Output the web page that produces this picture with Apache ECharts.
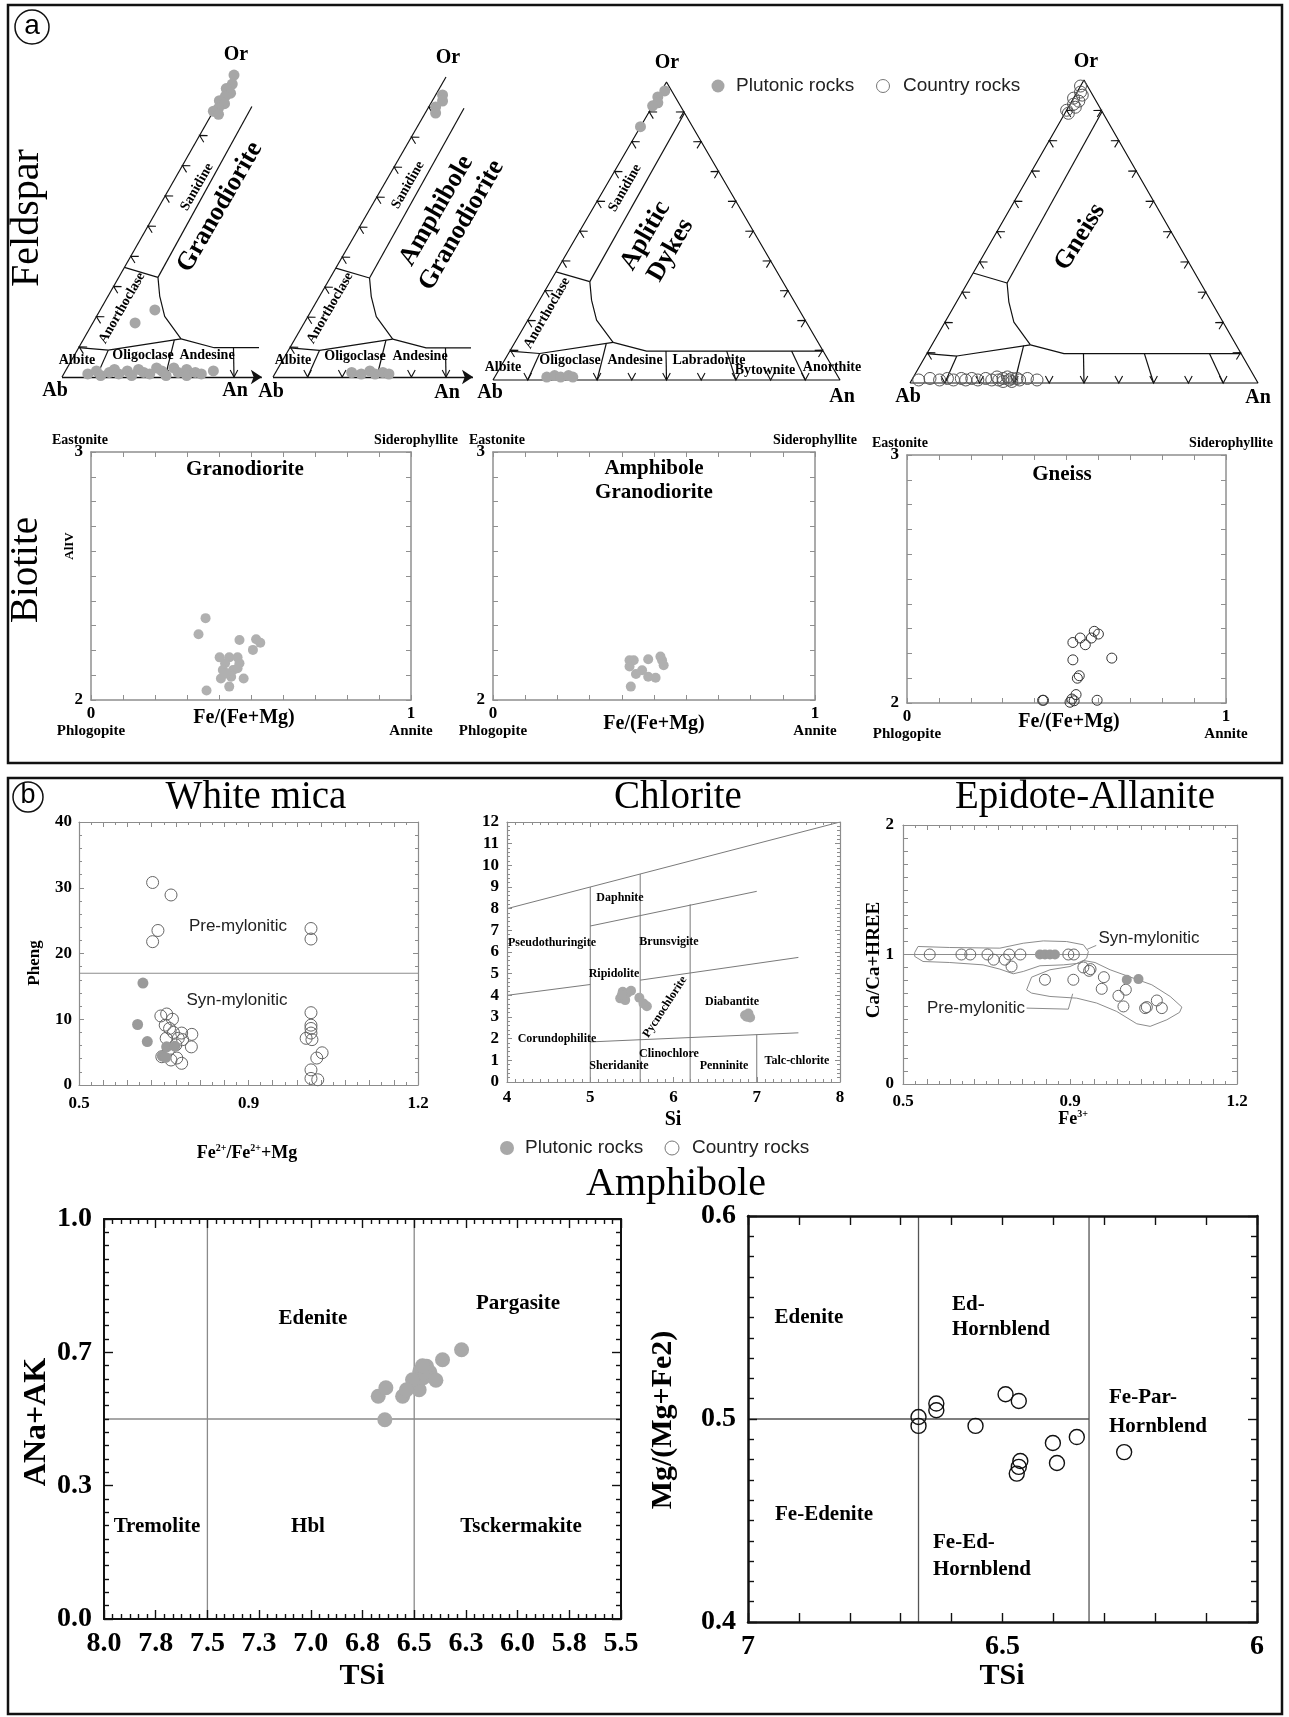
<!DOCTYPE html>
<html><head><meta charset="utf-8"><title>Mineral chemistry diagrams</title>
<script src="https://cdn.jsdelivr.net/npm/echarts@6/dist/echarts.min.js"></script>
<style>html,body{margin:0;padding:0;background:#fff;}#chart{width:1289px;height:1717px;}</style>
</head><body><div id="chart"></div>
<script>
// ================= DATA =================
// Feldspar ternary (Ab-An-Or): each point = [An, Or] (Ab = 1 - An - Or)
const fsGranodiorite = [
  [0.0,1.0],[0.01,0.97],[0.0,0.955],[0.02,0.94],[0.01,0.93],[0.0,0.915],[0.02,0.905],[0.01,0.89],[0.0,0.88],[0.02,0.87],
  [0.159,0.222],[0.123,0.179],
  [0.07,0.01],[0.09,0.02],[0.11,0.005],[0.13,0.015],[0.14,0.025],[0.16,0.01],[0.18,0.02],[0.2,0.005],[0.21,0.025],
  [0.23,0.015],[0.25,0.01],[0.26,0.03],[0.28,0.02],[0.3,0.005],[0.31,0.03],[0.33,0.015],[0.35,0.025],[0.36,0.005],
  [0.38,0.015],[0.4,0.01],[0.43,0.02]
];
const fsAmphGranodiorite = [
  [0.02,0.94],[0.03,0.92],[0.02,0.9],[0.03,0.88],
  [0.22,0.015],[0.25,0.01],[0.27,0.02],[0.29,0.01],[0.31,0.015],[0.33,0.01]
];
const fsAplitic = [
  [0.01,0.97],[0.0,0.95],[0.01,0.93],[0.0,0.92],[0.0,0.85],
  [0.15,0.01],[0.17,0.015],[0.19,0.01],[0.21,0.015],[0.225,0.01]
];
const fsGneiss = [
  [0.0,0.98],[0.01,0.96],[0.02,0.95],[0.0,0.94],[0.02,0.93],[0.01,0.92],[0.0,0.9],[0.02,0.91],[0.01,0.89],
  [0.02,0.01],[0.05,0.015],[0.08,0.01],[0.1,0.015],[0.12,0.01],[0.14,0.015],[0.155,0.01],[0.17,0.015],[0.19,0.01],
  [0.21,0.015],[0.23,0.01],[0.24,0.02],[0.25,0.01],[0.26,0.015],[0.265,0.005],[0.27,0.02],[0.28,0.01],[0.285,0.015],
  [0.29,0.005],[0.3,0.015],[0.31,0.01],[0.33,0.015],[0.36,0.01]
];
// Feldspar classification boundaries, [An, Or]
const fsBoundAbAnorth = [[0,0.097],[0.09,0.089],[0.283,0.126]];
const fsBoundPlagTop = [[0.283,0.126],[0.394,0.097],[0.903,0.097]];
const fsBoundCurve = [[0.283,0.126],[0.198,0.201],[0.15,0.268],[0.114,0.33]];
const fsBoundSanidine = [[0.114,0.33],[0.104,0.896]];
const fsBoundAnorthSan = [[0,0.363],[0.114,0.33]];
const fsPlagDivisions = [
  [[0.09,0.089],[0.1,0]], [[0.265,0.123],[0.3,0]], [[0.45,0.097],[0.5,0]],
  [[0.625,0.097],[0.7,0]], [[0.812,0.097],[0.9,0]]
];

// Biotite: [Fe/(Fe+Mg), AlIV]
const btGranodiorite = [[0.358,2.33],[0.336,2.265],[0.464,2.242],[0.516,2.245],[0.529,2.231],[0.506,2.202],[0.402,2.172],
  [0.432,2.172],[0.458,2.172],[0.419,2.148],[0.464,2.148],[0.412,2.121],[0.444,2.121],[0.406,2.087],[0.438,2.094],
  [0.477,2.087],[0.432,2.054],[0.361,2.038],[0.458,2.128],[0.423,2.108]];
const btAmphGranodiorite = [[0.424,2.16],[0.437,2.16],[0.424,2.135],[0.444,2.105],[0.463,2.12],[0.482,2.164],
  [0.482,2.094],[0.428,2.054],[0.52,2.175],[0.525,2.16],[0.53,2.14],[0.505,2.09]];
const btGneiss = [[0.52,2.244],[0.543,2.262],[0.559,2.235],[0.578,2.262],[0.587,2.289],[0.60,2.278],[0.52,2.174],
  [0.642,2.181],[0.54,2.11],[0.534,2.10],[0.53,2.034],[0.425,2.011],[0.428,2.011],[0.511,2.003],[0.524,2.009],
  [0.596,2.011],[0.517,2.016]];

// White mica: [Fe2+/(Fe2+ + Mg), Pheng]
const wmPlutonic = [[0.632,15.5],[0.621,9.2],[0.641,6.6],[0.672,4.4],[0.681,5.8],[0.698,5.9],[0.679,4.2]];
const wmCountry = [[0.652,30.8],[0.69,28.9],[0.663,23.5],[0.652,21.8],[0.979,23.8],[0.979,22.2],
  [0.669,10.5],[0.681,10.8],[0.693,10.0],[0.678,9.1],[0.687,8.6],[0.695,8.0],[0.712,7.9],[0.68,7.1],[0.705,7.1],
  [0.714,6.9],[0.733,7.7],[0.732,5.8],[0.685,5.3],[0.69,3.8],[0.702,4.1],[0.712,3.3],[0.671,4.3],[0.7,6.1],
  [0.979,11.0],[0.979,9.1],[0.979,8.6],[0.979,7.9],[0.969,7.1],[0.981,6.9],[0.991,4.1],[1.002,4.9],[0.979,2.3],
  [0.979,1.0],[0.993,0.8]];
const wmDivider = [[0.5,17],[1.2,17]];
const wmXTickVals = [0.5,0.85,1.2], wmXTickText = ['0.5','0.9','1.2'];
const wmYTickVals = [0,10,20,30,40], wmYTickText = ['0','10','20','30','40'];

// Chlorite: [Si, ordinate]
const chlPlutonic = [[5.36,3.86],[5.39,4.16],[5.44,4.09],[5.49,4.21],[5.42,3.78],[5.38,4.01],[5.59,3.89],
  [5.68,3.5],[5.64,3.62],[6.86,3.08],[6.92,2.98],[6.88,3.01],[6.9,3.16]];
const chlBoundaries = [
  [[4,8],[8,12]], [[5,0],[5,9]], [[5.6,0],[5.6,9.6]], [[6.2,0],[6.2,8.2]], [[5,7.2],[7,8.8]],
  [[4,4],[5,4.5]], [[5.6,4.7],[7.5,5.75]], [[5,1.85],[7.5,2.27]], [[7,0],[7,2.19]]
];
const chlXTickVals = [4,5,6,7,8];
const chlYTickVals = [0,1,2,3,4,5,6,7,8,9,10,11,12];

// Epidote-Allanite: [Fe3+, Ca/(Ca+HREE)]
const epPlutonic = [[0.787,1.0],[0.7975,1.0],[0.808,1.0],[0.8185,1.0],[0.969,0.805],[0.9935,0.81]];
const epCountry = [[0.556,1.0],[0.6225,1.0],[0.641,1.0],[0.677,1.0],[0.69,0.96],[0.7135,0.96],[0.7226,1.0],
  [0.7275,0.907],[0.746,1.0],[0.8465,1.0],[0.858,1.0],[0.878,0.9],[0.89,0.874],[0.893,0.887],[0.7975,0.805],
  [0.857,0.805],[0.921,0.825],[0.9165,0.735],[0.9515,0.681],[0.967,0.728],[0.962,0.599],[1.0075,0.586],
  [1.011,0.594],[1.032,0.645],[1.0425,0.586]];
const epDivider = [[0.5,1],[1.2,1]];
const epSynOutline = [[0.5245,1.015],[0.5315,1.062],[0.598,1.054],[0.703,1.049],[0.752,1.087],[0.794,1.105],
  [0.843,1.1],[0.878,1.075],[0.8885,1.023],[0.885,0.972],[0.871,0.933],[0.836,0.92],[0.787,0.913],[0.752,0.869],
  [0.731,0.851],[0.703,0.887],[0.668,0.92],[0.598,0.938],[0.542,0.946],[0.5245,0.985],[0.5245,1.015]];
const epSynLeader = [[0.886,1.04],[0.905,1.07]];
const epPreOutline = [[0.759,0.727],[0.7695,0.825],[0.808,0.882],[0.85,0.907],[0.878,0.954],[0.9025,0.938],
  [0.934,0.882],[0.983,0.817],[1.0215,0.766],[1.06,0.676],[1.0845,0.594],[1.0796,0.553],[1.053,0.496],
  [1.018,0.445],[0.99,0.465],[0.948,0.56],[0.906,0.625],[0.864,0.663],[0.808,0.676],[0.7695,0.702],[0.759,0.727]];
const epPreLeader = [[0.759,0.586],[0.8465,0.578],[0.8556,0.697]];
const epXTickVals = [0.5,0.85,1.2], epXTickText = ['0.5','0.9','1.2'];
const epYTickVals = [0,1,2], epYTickText = ['0','1','2'];

// Amphibole (left): [TSi, ANa+AK]
const amPlutonic = [[6.674,0.557],[6.637,0.578],[6.642,0.498],[6.556,0.557],[6.497,0.586],[6.473,0.619],
  [6.476,0.573],[6.456,0.603],[6.424,0.617],[6.395,0.597],[6.363,0.648],[6.271,0.673],[6.508,0.598],
  [6.44,0.632],[6.537,0.573],[6.46,0.633]];
const amLBoundaries = [ [[7.5,0],[7.5,1]], [[6.5,0],[6.5,1]], [[8,0.5],[5.5,0.5]] ];
const amLXTickVals = [8,7.75,7.5,7.25,7,6.75,6.5,6.25,6,5.75,5.5];
const amLXTickText = ['8.0','7.8','7.5','7.3','7.0','6.8','6.5','6.3','6.0','5.8','5.5'];
const amLYTickVals = [0,1/3,2/3,1], amLYTickText = ['0.0','0.3','0.7','1.0'];
// Amphibole (right): [TSi, Mg/(Mg+Fe2)]
const amCountry = [[6.665,0.501],[6.665,0.4966],[6.63,0.5076],[6.63,0.5043],[6.553,0.4966],[6.494,0.5122],
  [6.468,0.5089],[6.401,0.4882],[6.354,0.4911],[6.393,0.4783],[6.465,0.4793],[6.468,0.4764],[6.472,0.4731],
  [6.261,0.4837]];
const amRBoundaries = [ [[6.665,0.4],[6.665,0.6]], [[6.33,0.4],[6.33,0.6]], [[7,0.5],[6.33,0.5]] ];
const amRXTickVals = [7,6.5,6], amRXTickText = ['7','6.5','6'];
const amRYTickVals = [0.4,0.5,0.6], amRYTickText = ['0.4','0.5','0.6'];

// ================= BUILD =================
const SERIF = '"Liberation Serif","Times New Roman",serif';
const SANS = '"Liberation Sans",Arial,sans-serif';
const grids = [], xAxes = [], yAxes = [], series = [], graphics = [];
const SQ = Math.sqrt(3) / 2;
const tern = p => [p[0] + p[1] / 2, p[1] * SQ];
function lab(v, vals, txt) { for (let i = 0; i < vals.length; i++) if (Math.abs(v - vals[i]) < 1e-6) return txt[i]; return ''; }

function T(x, y, text, size, o) {
  o = o || {};
  const st = { text: text, fontFamily: o.ff || SERIF, fontSize: size, fontWeight: o.w || 'bold', fill: o.c || '#000',
    align: o.a || 'center', verticalAlign: o.va || 'middle', lineHeight: o.lh || Math.round(size * 1.15) };
  if (o.rich) st.rich = o.rich;
  graphics.push({ type: 'text', x: x, y: y, rotation: (o.rot || 0) * Math.PI / 180, z: 50, silent: true, style: st });
}
function seg(ax, pts, o) {
  series.push(Object.assign({ type: 'line', data: pts, symbol: 'none', showSymbol: false, clip: true,
    lineStyle: { color: o.c, width: o.w }, silent: true, z: 3, animation: false }, ax));
}
function scat(ax, data, o) {
  series.push(Object.assign({ type: 'scatter', data: data, symbol: 'circle', symbolSize: o.size, silent: true, z: 10,
    animation: false,
    itemStyle: o.open ? { color: 'rgba(0,0,0,0)', borderColor: o.stroke, borderWidth: o.bw || 1, opacity: 1 }
                      : { color: o.fill, opacity: 1 } }, ax));
}

// ---------- Ternary diagrams ----------
function chevronRender(params, api) {
  const p = api.coord([api.value(0), api.value(1)]);
  const a = api.value(2) * Math.PI / 180, dx = Math.cos(a), dy = Math.sin(a), L = 7, W = 3.8;
  const bx = p[0] - dx * L, by = p[1] - dy * L, nx = -dy, ny = dx;
  return { type: 'polyline', shape: { points: [[bx + nx * W, by + ny * W], [p[0], p[1]], [bx - nx * W, by - ny * W]] },
    style: { stroke: '#111', lineWidth: 1.1, fill: 'none' } };
}
function ternary(cfg) {
  const gi = grids.length;
  grids.push({ left: cfg.ab[0] + cfg.xr[0] * cfg.sx, top: cfg.ab[1] - cfg.yr[1] * cfg.sy,
    width: (cfg.xr[1] - cfg.xr[0]) * cfg.sx, height: (cfg.yr[1] - cfg.yr[0]) * cfg.sy });
  const xi = xAxes.length, yi = yAxes.length;
  xAxes.push({ gridIndex: gi, type: 'value', min: cfg.xr[0], max: cfg.xr[1], show: false });
  yAxes.push({ gridIndex: gi, type: 'value', min: cfg.yr[0], max: cfg.yr[1], show: false });
  const ax = { xAxisIndex: xi, yAxisIndex: yi };
  const edges = cfg.full ? [[[0,0],[1,0],[0,1],[0,0]]] : [[[0,0],[0,1]]];
  const all = edges.concat([fsBoundAbAnorth, fsBoundPlagTop, fsBoundCurve, fsBoundSanidine, fsBoundAnorthSan], fsPlagDivisions);
  all.forEach(l => seg(ax, l.map(tern), { c: '#111', w: 1.2 }));
  if (!cfg.full) {
    series.push(Object.assign({ type: 'lines', coordinateSystem: 'cartesian2d', clip: false, silent: true, z: 4,
      data: [{ coords: [tern([0, 0]), tern([cfg.arrow, 0])] }], symbol: ['none', 'arrow'], symbolSize: 11,
      lineStyle: { color: '#111', width: 1.4, opacity: 1 }, animation: false }, ax));
  }
  const ticks = [];
  for (let k = 1; k <= 9; k++) {
    const f = k / 10;
    ticks.push(tern([f, 0]).concat([90]));
    ticks.push(tern([0, f]).concat([210]));
    if (cfg.full) ticks.push(tern([1 - f, f]).concat([-30]));
  }
  series.push(Object.assign({ type: 'custom', renderItem: chevronRender, silent: true, z: 4, animation: false,
    data: ticks.filter(t => t[0] <= cfg.xr[1] - 0.004) }, ax));
  scat(ax, cfg.data.map(tern), cfg.open ? { size: 12, open: true, stroke: '#555', bw: 1 } : { size: 11, fill: '#a6a6a6' });
}
ternary({ ab: [62, 377], sx: 344, sy: 348.7, xr: [-0.08, 0.57], yr: [-0.04, 0.93], arrow: 0.581, full: false, data: fsGranodiorite });
ternary({ ab: [273, 377], sx: 346, sy: 346.4, xr: [-0.08, 0.569], yr: [-0.04, 0.93], arrow: 0.578, full: false, data: fsAmphGranodiorite });
ternary({ ab: [493, 380], sx: 347, sy: 344.1, xr: [-0.06, 1.06], yr: [-0.04, 0.93], full: true, data: fsAplitic });
ternary({ ab: [910, 383], sx: 348, sy: 349.9, xr: [-0.06, 1.06], yr: [-0.04, 0.93], full: true, data: fsGneiss, open: true });

// ---------- Boxed x-y plots ----------
function boxPlot(b, xo, yo, st) {
  const gi = grids.length;
  grids.push({ left: b[0], top: b[1], width: b[2] - b[0], height: b[3] - b[1] });
  const mk = (pos, o, withLabel) => ({
    gridIndex: gi, type: 'value', position: pos, min: o.min, max: o.max, interval: o.interval, inverse: !!o.inverse,
    axisLine: { show: true, onZero: false, lineStyle: { color: st.color, width: st.lw } },
    axisTick: { show: true, inside: true, length: o.tl || st.tl, lineStyle: { color: st.color, width: st.tw || 1 } },
    minorTick: { show: !!o.minor, splitNumber: o.minor || 5, length: st.ml || 3, lineStyle: { color: st.color, width: st.tw || 1 } },
    splitLine: { show: false }, minorSplitLine: { show: false },
    axisLabel: withLabel ? Object.assign({ show: true, interval: 0, color: '#000', fontFamily: SERIF, fontWeight: 'bold',
      fontSize: st.fs, margin: o.margin, hideOverlap: false, showMinLabel: true, showMaxLabel: true }, o.label) : { show: false },
    z: 5
  });
  const xi = xAxes.length; xAxes.push(mk('bottom', xo, true)); xAxes.push(mk('top', xo, false));
  const yi = yAxes.length; yAxes.push(mk('left', yo, true)); yAxes.push(mk('right', yo, false));
  return { xAxisIndex: xi, yAxisIndex: yi };
}

// Biotite
const btRich = { n: { fontFamily: SERIF, fontWeight: 'bold', fontSize: 17, lineHeight: 16 },
                 l: { fontFamily: SERIF, fontWeight: 'bold', fontSize: 15, lineHeight: 18 } };
const btXTickVals = [0, 1], btXTickText = ['{n|0}\n{l|Phlogopite}', '{n|1}\n{l|Annite}'];
const btYTickVals = [2, 3], btYTickText = ['2', '3'];
const btStyle = { color: '#8f8f8f', lw: 1.5, tl: 5, fs: 17 };
const btX = { min: 0, max: 1, interval: 0.1, margin: 6, label: { formatter: v => lab(v, btXTickVals, btXTickText), rich: btRich } };
const btY = { min: 2, max: 3, interval: 0.1, margin: 8, label: { formatter: v => lab(v, btYTickVals, btYTickText) } };
const bt1 = boxPlot([91, 452, 411, 700], btX, btY, btStyle);
const bt2 = boxPlot([493, 452, 815, 700], btX, btY, btStyle);
const bt3 = boxPlot([907, 455, 1226, 703], btX, btY, btStyle);
scat(bt1, btGranodiorite, { size: 10, fill: '#b0b0b0' });
scat(bt2, btAmphGranodiorite, { size: 10, fill: '#b0b0b0' });
scat(bt3, btGneiss, { size: 10, open: true, stroke: '#333', bw: 1 });

// White mica
const pbStyle = { color: '#8c8c8c', lw: 1.2, tl: 5, ml: 3, fs: 17 };
const wm = boxPlot([79, 822, 418, 1085],
  { min: 0.5, max: 1.2, interval: 0.05, minor: 2, margin: 10, label: { formatter: v => lab(v, wmXTickVals, wmXTickText) } },
  { min: 0, max: 40, interval: 10, minor: 5, margin: 7, label: { formatter: v => lab(v, wmYTickVals, wmYTickText) } }, pbStyle);
seg(wm, wmDivider, { c: '#8c8c8c', w: 1.2 });
scat(wm, wmCountry, { size: 12, open: true, stroke: '#666', bw: 1 });
scat(wm, wmPlutonic, { size: 11, fill: '#9a9a9a' });

// Chlorite
const ch = boxPlot([507, 822, 840, 1082],
  { min: 4, max: 8, interval: 1, minor: 10, margin: 7, label: { formatter: v => lab(v, chlXTickVals, chlXTickVals.map(String)) } },
  { min: 0, max: 12, interval: 1, minor: 5, margin: 8, label: { formatter: v => lab(v, chlYTickVals, chlYTickVals.map(String)) } }, pbStyle);
chlBoundaries.forEach(l => seg(ch, l, { c: '#7a7a7a', w: 1 }));
scat(ch, chlPlutonic, { size: 10, fill: '#a8a8a8' });

// Epidote-Allanite
const ep = boxPlot([903, 825, 1237, 1084],
  { min: 0.5, max: 1.2, interval: 0.05, minor: 2, margin: 9, label: { formatter: v => lab(v, epXTickVals, epXTickText) } },
  { min: 0, max: 2, interval: 0.1, margin: 9, label: { formatter: v => lab(v, epYTickVals, epYTickText) } }, pbStyle);
seg(ep, epDivider, { c: '#8c8c8c', w: 1.2 });
seg(ep, epSynOutline, { c: '#8c8c8c', w: 1 });
seg(ep, epPreOutline, { c: '#8c8c8c', w: 1 });
seg(ep, epSynLeader, { c: '#8c8c8c', w: 1 });
seg(ep, epPreLeader, { c: '#8c8c8c', w: 1 });
scat(ep, epCountry, { size: 11, open: true, stroke: '#666', bw: 1 });
scat(ep, epPlutonic, { size: 10, fill: '#999' });

// Amphibole left
const amStyle = { color: '#111', lw: 2, tl: 9, ml: 5, tw: 1.4, fs: 28 };
const amL = boxPlot([104, 1219, 621, 1619],
  { min: 5.5, max: 8, interval: 0.25, inverse: true, minor: 6, margin: 11, label: { formatter: v => lab(v, amLXTickVals, amLXTickText) } },
  { min: 0, max: 1, interval: 1 / 3, minor: 10, margin: 12, label: { formatter: v => lab(v, amLYTickVals, amLYTickText) } }, amStyle);
amLBoundaries.forEach(l => seg(amL, l, { c: '#8a8a8a', w: 1.3 }));
scat(amL, amPlutonic, { size: 15, fill: '#a9a9a9' });

// Amphibole right
const amR = boxPlot([748, 1216, 1257, 1622],
  { min: 6, max: 7, interval: 0.1, inverse: true, margin: 11, label: { formatter: v => lab(v, amRXTickVals, amRXTickText) } },
  { min: 0.4, max: 0.6, interval: 0.1, minor: 10, margin: 12, label: { formatter: v => lab(v, amRYTickVals, amRYTickText) } },
  { color: '#111', lw: 2.5, tl: 9, ml: 6, tw: 1.4, fs: 28 });
amRBoundaries.forEach(l => seg(amR, l, { c: '#555', w: 1.3 }));
scat(amR, amCountry, { size: 15, open: true, stroke: '#111', bw: 1.4 });

// ---------- Frames, panel letters, texts ----------
graphics.push({ type: 'rect', z: 60, silent: true, shape: { x: 8, y: 5, width: 1274, height: 758 }, style: { fill: 'none', stroke: '#111', lineWidth: 2.5 } });
graphics.push({ type: 'rect', z: 60, silent: true, shape: { x: 8, y: 778, width: 1274, height: 936 }, style: { fill: 'none', stroke: '#111', lineWidth: 2.5 } });
graphics.push({ type: 'circle', z: 60, silent: true, shape: { cx: 32, cy: 27, r: 17 }, style: { fill: 'none', stroke: '#111', lineWidth: 1.5 } });
graphics.push({ type: 'circle', z: 60, silent: true, shape: { cx: 28, cy: 797, r: 15 }, style: { fill: 'none', stroke: '#111', lineWidth: 1.5 } });
T(32, 26, 'a', 28, { ff: SANS, w: 'normal' });
T(28, 796, 'b', 27, { ff: SANS, w: 'normal' });

// Row labels
T(27, 218, 'Feldspar', 40, { w: 'normal', rot: 90 });
T(27, 570, 'Biotite', 39, { w: 'normal', rot: 90 });

// Ternary labels
const tl = 14;
// T1
T(236, 55, 'Or', 20); T(55, 391, 'Ab', 20); T(235, 391, 'An', 20);
T(197, 187, 'Sanidine', tl, { rot: 60 }); T(220, 207, 'Granodiorite', 26, { rot: 60 });
T(122, 308, 'Anorthoclase', tl, { rot: 60 });
T(77, 360, 'Albite', tl); T(143, 355, 'Oligoclase', tl); T(207, 355, 'Andesine', tl);
// T2
T(448, 58, 'Or', 20); T(271, 392, 'Ab', 20); T(447, 393, 'An', 20);
T(408, 185, 'Sanidine', tl, { rot: 60 }); T(449, 218, 'Amphibole\nGranodiorite', 26, { rot: 60, lh: 29 });
T(330, 308, 'Anorthoclase', tl, { rot: 60 });
T(293, 360, 'Albite', tl); T(355, 356, 'Oligoclase', tl); T(420, 356, 'Andesine', tl);
// T3
T(667, 63, 'Or', 20); T(490, 393, 'Ab', 20); T(842, 397, 'An', 20);
T(625, 188, 'Sanidine', tl, { rot: 60 }); T(658, 243, 'Aplitic\nDykes', 26, { rot: 60, lh: 29 });
T(547, 313, 'Anorthoclase', tl, { rot: 60 });
T(503, 367, 'Albite', tl); T(570, 360, 'Oligoclase', tl); T(635, 360, 'Andesine', tl);
T(709, 360, 'Labradorite', tl); T(765, 370, 'Bytownite', tl); T(832, 367, 'Anorthite', tl);
// T4
T(1086, 62, 'Or', 20); T(908, 397, 'Ab', 20); T(1258, 398, 'An', 20);
T(1080, 237, 'Gneiss', 26, { rot: 58 });
// top legend
graphics.push({ type: 'circle', z: 60, silent: true, shape: { cx: 718, cy: 86, r: 6.5 }, style: { fill: '#a6a6a6' } });
T(736, 86, 'Plutonic rocks', 19, { ff: SANS, w: 'normal', a: 'left', c: '#222' });
graphics.push({ type: 'circle', z: 60, silent: true, shape: { cx: 883, cy: 86, r: 6.5 }, style: { fill: 'none', stroke: '#777', lineWidth: 1 } });
T(903, 86, 'Country rocks', 19, { ff: SANS, w: 'normal', a: 'left', c: '#222' });

// Biotite labels
T(80, 440, 'Eastonite', 14); T(416, 440, 'Siderophyllite', 14);
T(497, 440, 'Eastonite', 14); T(815, 440, 'Siderophyllite', 14);
T(900, 443, 'Eastonite', 14); T(1231, 443, 'Siderophyllite', 14);
T(245, 470, 'Granodiorite', 21); T(654, 481, 'Amphibole\nGranodiorite', 21, { lh: 24 }); T(1062, 475, 'Gneiss', 21);
T(244, 718, 'Fe/(Fe+Mg)', 20); T(654, 724, 'Fe/(Fe+Mg)', 20); T(1069, 722, 'Fe/(Fe+Mg)', 20);
T(70, 546, 'AlIV', 13, { rot: 90 });

// Panel b titles
T(256, 798, 'White mica', 39, { w: 'normal' });
T(678, 798, 'Chlorite', 39, { w: 'normal' });
T(1085, 798, 'Epidote-Allanite', 39, { w: 'normal' });
T(676, 1184, 'Amphibole', 40, { w: 'normal' });

// White mica texts
T(238, 926, 'Pre-mylonitic', 17, { ff: SANS, w: 'normal', c: '#222' });
T(237, 1000, 'Syn-mylonitic', 17, { ff: SANS, w: 'normal', c: '#222' });
T(35, 963, 'Pheng', 17, { rot: 90 });
const supRich = { s: { fontFamily: SERIF, fontWeight: 'bold', fontSize: 10, lineHeight: 10, verticalAlign: 'top' },
                  m: { fontFamily: SERIF, fontWeight: 'bold', fontSize: 18, lineHeight: 20 } };
T(247, 1153, '{m|Fe}{s|2+}{m|/Fe}{s|2+}{m|+Mg}', 18, { rich: supRich });

// Chlorite texts
const cf = 12;
T(620, 898, 'Daphnite', cf); T(552, 943, 'Pseudothuringite', cf); T(669, 942, 'Brunsvigite', cf);
T(614, 974, 'Ripidolite', cf); T(665, 1007, 'Pycnochlorite', cf, { rot: 57 }); T(732, 1002, 'Diabantite', cf);
T(557, 1039, 'Corundophilite', cf); T(669, 1054, 'Clinochlore', cf); T(619, 1066, 'Sheridanite', cf);
T(724, 1066, 'Penninite', cf); T(797, 1061, 'Talc-chlorite', cf);
T(673, 1120, 'Si', 20);
graphics.push({ type: 'circle', z: 60, silent: true, shape: { cx: 507, cy: 1148, r: 7 }, style: { fill: '#a8a8a8' } });
T(525, 1148, 'Plutonic rocks', 19, { ff: SANS, w: 'normal', a: 'left', c: '#222' });
graphics.push({ type: 'circle', z: 60, silent: true, shape: { cx: 672, cy: 1148, r: 7 }, style: { fill: 'none', stroke: '#777', lineWidth: 1 } });
T(692, 1148, 'Country rocks', 19, { ff: SANS, w: 'normal', a: 'left', c: '#222' });

// Epidote texts
T(1149, 938, 'Syn-mylonitic', 17, { ff: SANS, w: 'normal', c: '#222' });
T(976, 1008, 'Pre-mylonitic', 17, { ff: SANS, w: 'normal', c: '#222' });
T(874, 960, 'Ca/Ca+HREE', 19, { rot: 90 });
T(1073, 1119, '{m|Fe}{s|3+}', 18, { rich: supRich });

// Amphibole texts
const af = 21;
T(313, 1319, 'Edenite', af); T(518, 1304, 'Pargasite', af); T(157, 1527, 'Tremolite', af);
T(308, 1527, 'Hbl', af); T(521, 1527, 'Tsckermakite', af);
T(37, 1422, 'ANa+AK', 32, { rot: 90 }); T(362, 1676, 'TSi', 30);
T(809, 1318, 'Edenite', af); T(952, 1305, 'Ed-', af, { a: 'left' }); T(952, 1330, 'Hornblend', af, { a: 'left' });
T(824, 1515, 'Fe-Edenite', af); T(933, 1543, 'Fe-Ed-', af, { a: 'left' }); T(933, 1570, 'Hornblend', af, { a: 'left' });
T(1109, 1398, 'Fe-Par-', af, { a: 'left' }); T(1109, 1427, 'Hornblend', af, { a: 'left' });
T(663, 1420, 'Mg/(Mg+Fe2)', 30, { rot: 90 }); T(1002, 1676, 'TSi', 30);

// ================= RENDER =================
const chart = echarts.init(document.getElementById('chart'), null, { renderer: 'canvas' });
chart.setOption({ animation: false, backgroundColor: '#fff', grid: grids, xAxis: xAxes, yAxis: yAxes,
  series: series, graphic: { elements: graphics } });
</script></body></html>
